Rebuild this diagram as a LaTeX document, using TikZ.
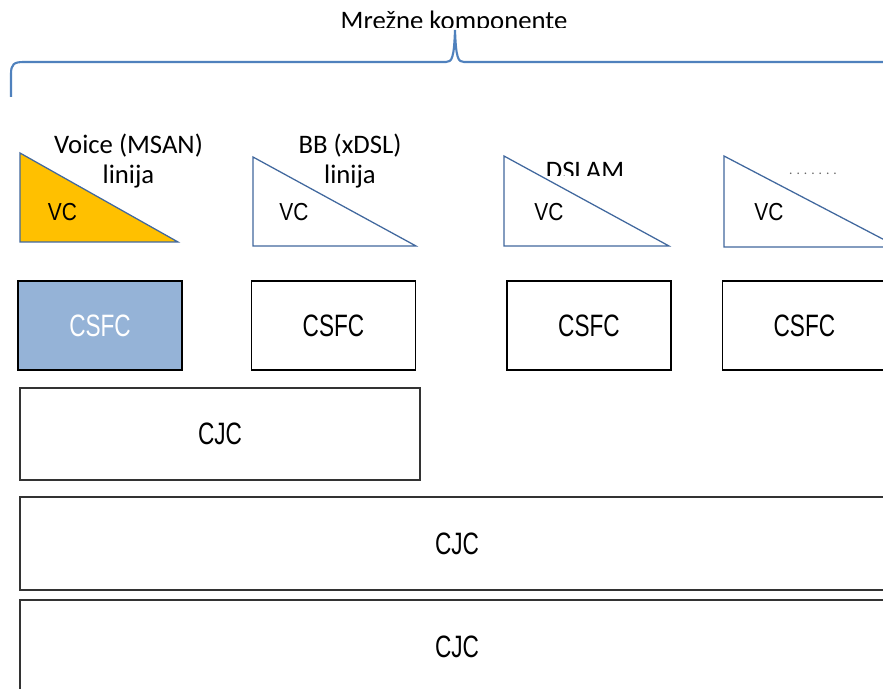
\documentclass[tikz,border=0pt]{standalone}
\usepackage{fontspec}
\setmainfont{Carlito}
\newfontfamily\narrowfont[FakeStretch=0.73]{Liberation Sans}
\newfontfamily\vcfont[FakeStretch=0.85]{Liberation Sans}
\usetikzlibrary{positioning}
\definecolor{voiceorange}{HTML}{FFC000}
\definecolor{csfcblue}{HTML}{95B3D7}
\definecolor{triedge}{HTML}{41689E}
\definecolor{bracecol}{HTML}{4F81BD}

\begin{document}
\begin{tikzpicture}[x=0.025cm, y=-0.025cm,
      every node/.style={inner sep=0pt},
      tri/.style={draw=triedge, line width=0.9pt},
      tritext/.style={font=\fontsize{19}{21.3}\selectfont, align=center},
      vc/.style={font=\vcfont\fontsize{17.5}{19}\selectfont, anchor=base},
      csfc/.style={draw=black, line width=1pt, minimum width=4.1cm, minimum height=2.225cm, font=\narrowfont\fontsize{22}{24}\selectfont},
      cjc/.style={draw=black!80, line width=1pt, minimum height=2.3cm, font=\narrowfont\fontsize{22}{24}\selectfont}
        ]
        \clip (0,0) rectangle (883,689);
        \fill[white] (0,0) rectangle (883,689);

        % Title, cut at the bottom
        \begin{scope}
          \clip (0,0) rectangle (883,28);
          \node (title) [font=\fontsize{19}{21}\selectfont, anchor=base] at (454,30) {Mrežne komponente};
        \end{scope}

        % Brace
        \coordinate (braceleft) at (11,97);
        \coordinate (bracetip) at (455,30);
        \coordinate (braceright) at (900,62);
        \draw [bracecol, line width=1.5pt] (braceleft) -- (11,74) .. controls (11,64) and (14,62) .. (24,62)
          -- (446,62) .. controls (452,62) and (454,58) .. (bracetip)
          .. controls (456,58) and (458,62) .. (464,62) -- (braceright);

        % Triangles
        \draw [tri, fill=voiceorange] (20,153) -- (20,242) -- (178,242) -- cycle;
        \draw [tri] (253,157) -- (253,246) -- (416,246) -- cycle;
        \draw [tri] (504,156) -- (504,246) -- (669,246) -- cycle;
        \draw [tri] (724,156) -- (724,247) -- (898,247) -- cycle;

        % Triangle texts
        \node (voice) [tritext] at (128.5,161) {Voice (MSAN)\\linija};
        \node (bb) [tritext] at (350,161) {BB (xDSL)\\linija};
        \begin{scope}
          \clip (0,0) rectangle (883,176);
          \node (dslam) [tritext, anchor=base] at (585,180) {DSLAM};
        \end{scope}
        \node (dots) [font=\fontsize{9.5}{10}\selectfont, text=black!60, anchor=base] at (813,175) {. . . . . . .};

        \node (vc1) [vc] at (62.5,221) {VC};
        \node (vc2) [vc] at (294,221) {VC};
        \node (vc3) [vc] at (549,221) {VC};
        \node (vc4) [vc] at (769,221) {VC};

        % CSFC row
        \node (csfc1) [csfc, fill=csfcblue, text=white] at (100,325.5) {CSFC};
        \node (csfc2) [csfc, right=1.7cm of csfc1] {CSFC};
        \node (csfc3) [csfc, right=2.25cm of csfc2] {CSFC};
        \node (csfc4) [csfc, right=1.25cm of csfc3] {CSFC};

        % CJC rows
        \node (cjc1) [cjc, minimum width=10cm] at (220,434) {CJC};
        \node (cjc2) [cjc, minimum width=21.85cm, minimum height=2.325cm] at (457,543.5) {CJC};
        \node (cjc3) [cjc, minimum width=21.85cm, minimum height=2.35cm] at (457,647) {CJC};

          \end{tikzpicture}
\end{document}
